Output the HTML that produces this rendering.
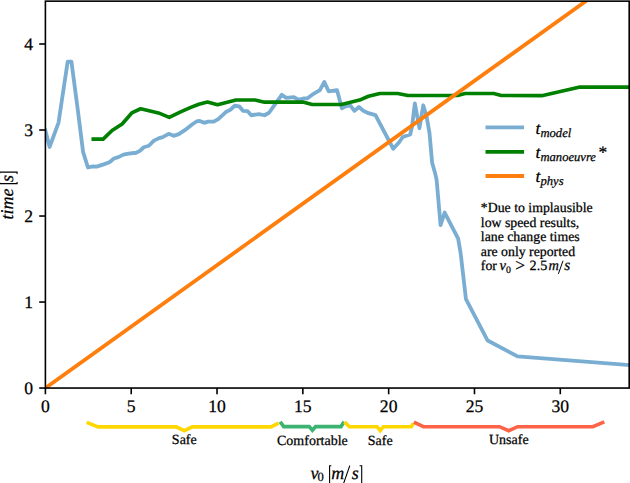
<!DOCTYPE html>
<html><head><meta charset="utf-8"><style>
html,body{margin:0;padding:0;background:#fff;width:630px;height:483px;overflow:hidden}
svg{display:block}
text{font-family:"Liberation Serif",serif;text-rendering:geometricPrecision;fill:#000;stroke:#000;stroke-width:0.25px}
</style></head><body>
<svg width="630" height="483" viewBox="0 0 630 483">
<defs><clipPath id="ax"><rect x="45.4" y="1.15" width="583.8000000000001" height="386.90000000000003"/></clipPath></defs>
<g clip-path="url(#ax)" fill="none" stroke-linejoin="round">
<polyline points="44.85,128.35 49.65,146.95 58.55,122.55 67.65,61.75 71.45,61.75 77.85,110.35 83.05,151.85 87.95,167.55 89.15,167.05 92.95,166.35 96.75,166.65 104.35,164.15 109.45,162.25 113.95,158.45 118.35,157.15 123.45,154.65 128.55,153.65 136.15,152.75 139.95,150.85 143.75,147.25 148.85,145.75 153.95,140.65 159.05,138.15 162.25,137.35 168.65,133.85 173.65,135.85 178.75,134.15 186.35,129.05 192.75,124.05 196.55,121.45 199.75,120.95 204.25,122.85 208.05,121.65 213.75,121.65 218.25,119.05 225.85,112.05 230.25,109.85 234.75,105.75 239.15,106.35 242.95,110.85 247.45,111.05 251.25,115.25 258.85,114.05 264.55,115.25 269.05,112.75 276.05,102.85 281.75,94.85 286.25,97.85 293.85,97.15 298.25,99.75 304.05,98.45 307.15,98.45 312.25,94.65 319.85,90.15 324.35,81.95 328.75,91.45 337.05,90.15 341.85,108.35 345.55,106.35 350.05,105.15 354.45,110.85 358.95,107.05 363.35,110.85 368.45,113.15 375.45,115.05 393.25,148.75 398.95,142.55 402.75,136.95 410.15,134.45 412.05,126.45 414.85,103.45 419.45,128.25 423.25,105.25 426.35,115.25 429.45,132.65 432.15,162.75 435.45,174.55 436.65,180.15 440.55,225.15 444.65,212.55 458.15,238.65 460.65,253.35 465.95,299.15 487.65,340.55 517.55,356.35 631.35,365.25" stroke="#79ADD2" stroke-width="3.8"/>
<polyline points="91.45,139.15 103.15,139.15 112.05,130.55 122.15,123.95 131.75,112.95 140.65,108.75 158.45,112.95 169.25,117.35 180.05,112.15 190.15,107.65 198.85,104.25 207.45,101.95 217.55,104.75 235.95,100.05 255.05,100.05 264.55,102.15 302.75,102.05 312.25,104.55 341.45,104.55 359.55,100.05 368.45,96.25 379.85,93.45 397.65,93.45 407.95,95.45 457.45,95.45 465.15,93.55 493.65,93.55 501.35,95.45 541.75,95.65 578.95,87.15 631.35,87.15" stroke="#008000" stroke-width="3.6"/>
<line x1="45.4" y1="388.05" x2="637.52" y2="-35.86" stroke="#FF7F0E" stroke-width="3.8" stroke-linecap="square"/>
</g>
<rect x="45.4" y="1.15" width="583.8000000000001" height="386.90000000000003" fill="none" stroke="#000" stroke-width="1.6"/>
<g stroke="#000" stroke-width="1.6"><line x1="45.40" y1="388.05" x2="45.40" y2="394.25" /><line x1="131.22" y1="388.05" x2="131.22" y2="394.25" /><line x1="217.03" y1="388.05" x2="217.03" y2="394.25" /><line x1="302.84" y1="388.05" x2="302.84" y2="394.25" /><line x1="388.66" y1="388.05" x2="388.66" y2="394.25" /><line x1="474.47" y1="388.05" x2="474.47" y2="394.25" /><line x1="560.29" y1="388.05" x2="560.29" y2="394.25" /><line x1="39.199999999999996" y1="388.05" x2="45.4" y2="388.05" /><line x1="39.199999999999996" y1="302.04" x2="45.4" y2="302.04" /><line x1="39.199999999999996" y1="216.03" x2="45.4" y2="216.03" /><line x1="39.199999999999996" y1="130.02" x2="45.4" y2="130.02" /><line x1="39.199999999999996" y1="44.01" x2="45.4" y2="44.01" /></g>
<g font-size="17.6"><text transform="translate(45.40,412.1) scale(1,1.0)" text-anchor="middle">0</text><text transform="translate(131.22,412.1) scale(1,1.0)" text-anchor="middle">5</text><text transform="translate(217.03,412.1) scale(1,1.0)" text-anchor="middle">10</text><text transform="translate(302.84,412.1) scale(1,1.0)" text-anchor="middle">15</text><text transform="translate(388.66,412.1) scale(1,1.0)" text-anchor="middle">20</text><text transform="translate(474.47,412.1) scale(1,1.0)" text-anchor="middle">25</text><text transform="translate(560.29,412.1) scale(1,1.0)" text-anchor="middle">30</text><text transform="translate(33.1,394.05) scale(1,1.0)" text-anchor="end">0</text><text transform="translate(33.1,308.04) scale(1,1.0)" text-anchor="end">1</text><text transform="translate(33.1,222.03) scale(1,1.0)" text-anchor="end">2</text><text transform="translate(33.1,136.02) scale(1,1.0)" text-anchor="end">3</text><text transform="translate(33.1,50.01) scale(1,1.0)" text-anchor="end">4</text></g>
<!-- axis labels -->
<g font-size="18">
<text x="310.6" y="478.6" font-style="italic">v</text>
<text x="317.6" y="481.2" font-size="12.6">0</text>
<text x="331.2" y="478.6" font-style="italic">m</text>
<text x="351.8" y="478.6" font-style="italic">s</text>
</g>
<path d="M331.3,465.8 H329.6 V486 M359.6,465.8 H361.7 V486 M349.8,465.6 L343.4,484" fill="none" stroke="#000" stroke-width="1.1"/>
<g transform="translate(13.2,219.5) rotate(-90)">
<text x="0" y="0" font-size="18" font-style="italic">time</text>
<text x="37.6" y="0" font-size="18" font-style="italic">s</text>
<path d="M37.6,-13.6 H35.9 V3.9 H37.6 M45.6,-13.6 H47.4 V3.9 H45.6" fill="none" stroke="#000" stroke-width="1.1"/>
</g>
<!-- legend -->
<g stroke-width="3.9">
<line x1="485.5" y1="127.4" x2="524.1" y2="127.4" stroke="#79ADD2"/>
<line x1="485.5" y1="151.9" x2="524.1" y2="151.9" stroke="#008000"/>
<line x1="485.5" y1="176.0" x2="524.1" y2="176.0" stroke="#FF7F0E"/>
</g>
<g font-size="17.5" font-style="italic">
<text x="535.6" y="133.6">t<tspan font-size="12.6" dy="2.9">model</tspan></text>
<text x="535.6" y="157.8">t<tspan font-size="12.6" dy="2.9">manoeuvre</tspan></text><text x="598.6" y="158.4" font-style="normal">*</text>
<text x="535.6" y="182">t<tspan font-size="12.6" dy="2.9">phys</tspan></text>
</g>
<g font-size="13.8">
<text x="480.8" y="212.2">*Due to implausible</text>
<text x="480.8" y="226.7">low speed results,</text>
<text x="480.8" y="241.2">lane change times</text>
<text x="480.8" y="255.7">are only reported</text>
<text x="480.8" y="270.2">for</text>
<text x="499.4" y="270.2" font-style="italic" font-size="14.6">v</text>
<text x="506.0" y="272.9" font-size="9.9">0</text>
<text x="515.2" y="270.9" font-size="17.5">&gt;</text>
<text x="529.6" y="270.3" font-size="14.2">2.5</text>
<text x="548.6" y="270.2" font-style="italic" font-size="14.4">m</text>
<text x="564.2" y="270.2" font-style="italic" font-size="15.5">s</text>
<path d="M563.0,260.8 L558.4,273.8" stroke="#000" stroke-width="1"/>
</g>
<!-- braces -->
<g fill="none" stroke-width="3.6" stroke-linejoin="miter">
<polyline stroke="#FFD700" points="86.7,422.4 98.1,426.9 176.2,426.9 184.3,430.7 192.4,426.9 271,426.9 278.7,423.1"/>
<polyline stroke="#3CB371" points="280.2,421.8 283.7,426.6 309.2,426.6 312.4,430.3 315.6,426.6 341,426.6 344.1,421.8"/>
<polyline stroke="#FFD700" points="344.5,421.9 349.3,426.7 377.1,426.7 380.2,430.6 383.4,426.7 411.3,426.7 413.6,423.1"/>
<polyline stroke="#FF6347" points="413.9,422.2 423.4,426.7 499.5,426.7 508.7,430.7 517.6,426.7 592.9,426.7 604.3,421.9"/>
</g>
<g font-size="14" text-anchor="middle" transform="translate(0,0.5)">
<text x="184.3" y="443.6">Safe</text>
<text x="312.4" y="444.1">Comfortable</text>
<text x="380.2" y="444.1">Safe</text>
<text x="508.8" y="443.7">Unsafe</text>
</g>
</svg>
</body></html>
